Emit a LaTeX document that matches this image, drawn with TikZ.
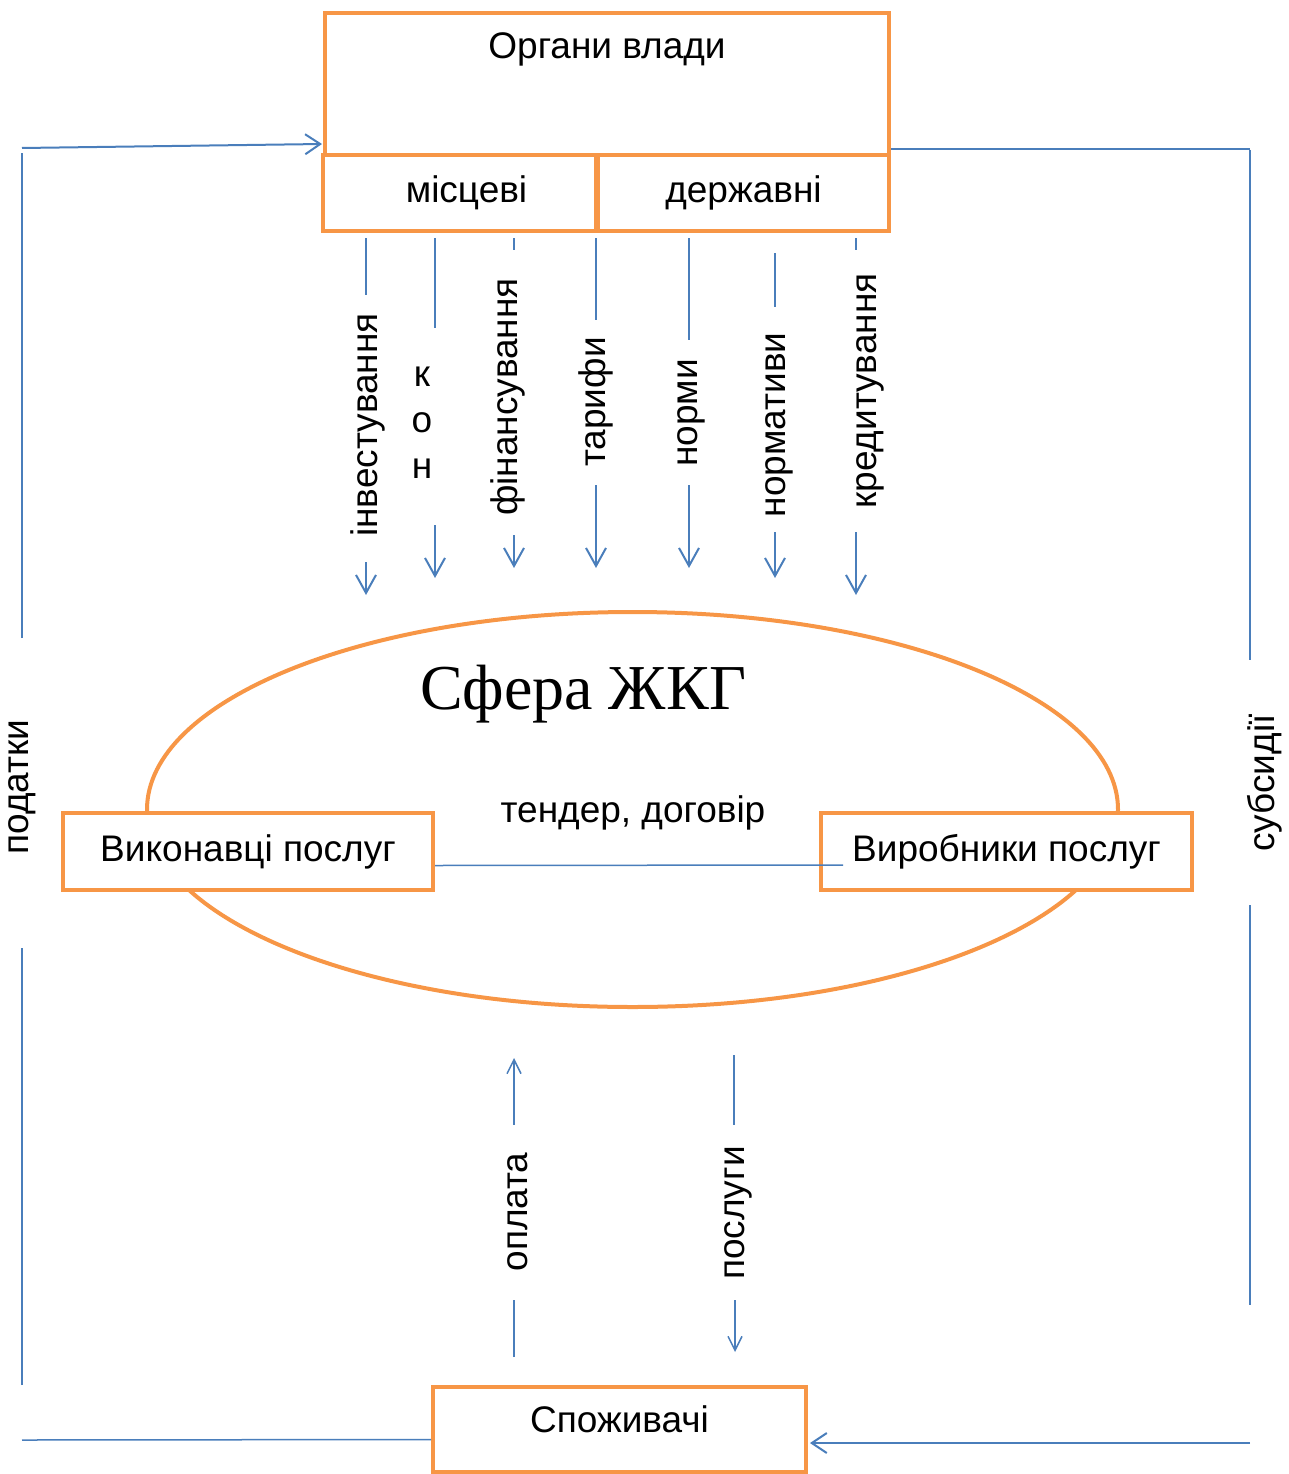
\documentclass[tikz,border=0pt]{standalone}
\usepackage{fontspec}
\setmainfont{Liberation Sans}
\newfontfamily\timesru{Liberation Serif}
\usepackage{tikz}
\usetikzlibrary{arrows.meta,shapes.geometric}
\definecolor{orng}{HTML}{F79646}
\definecolor{blu}{HTML}{4A7EBB}

\begin{document}
\begin{tikzpicture}[x=1pt,y=-1pt,font=\fontsize{37}{46}\selectfont,
		>={Straight Barb[length=18pt,width=20pt]}]
				\tikzstyle{ob}=[draw=orng, line width=4pt, fill=white, inner sep=0pt]
				\tikzstyle{bl}=[draw=blu, line width=2pt]
				\tikzstyle{th}=[draw=blu, line width=1.5pt]
				\tikzstyle{vl}=[rotate=90, inner sep=0pt]
				\useasboundingbox (0,0) rectangle (1288,1474);

				% sfera
				\node[draw=orng, line width=4pt, ellipse, minimum width=971, minimum height=395] (sfera) at (632.5,809.5) {};
				\node (sferat) at (583,694) {\timesru\fontsize{64}{72}\selectfont Сфера ЖКГ};
				\node (tender) at (633,813) {тендер, договір};
				\node[ob, minimum width=370, minimum height=77] (vykon) at (248,851.5) {Виконавці послуг};
				\node[ob, minimum width=371, minimum height=77] (virob) at (1006.5,851.5) {Виробники послуг};

				% organy vlady
				\node[ob, minimum width=564, minimum height=142] (organy) at (607,84) {};
				\node (organyt) at (607,49) {Органи влади};
				\node[ob, minimum width=273, minimum height=76] (mists) at (459.5,193) {\hspace{14pt}місцеві};
				\node[ob, minimum width=291, minimum height=76] (derzh) at (743.5,193) {державні};

				\node[ob, minimum width=373, minimum height=85] (spozh) at (619.5,1429.5) {\raisebox{20pt}{Споживачі}};

				% strilky vnyz
				\foreach \n/\x/\xl/\ya/\yb/\ym/\yc/\yd/\txt in {
					1/366/368/238/295/425/562/595/інвестування,
					3/514/508/238/250/397/535/568/фінансування,
					4/596/596/238/320/402/485/568/тарифи,
					5/689/691/238/340/413/485/568/норми,
					6/775/779/253/307/425/532/578/нормативи,
					7/856/870/238/250/391/532/595/кредитування}
				{
					\coordinate (s\n) at (\x,\ya);
					\coordinate (g\n) at (\x,\yb);
					\node[vl] (l\n) at (\xl,\ym) {\txt};
					\coordinate (h\n) at (\x,\yc);
					\coordinate (e\n) at (\x,\yd);
					\draw[bl] (s\n) -- (g\n);
					\draw[bl,->] (h\n) -- (e\n);
				}
				\coordinate (s2) at (435,238);
				\coordinate (g2) at (435,328);
				\node[align=center, inner sep=0pt] (l2) at (422,423) {к\\о\\н};
				\coordinate (h2) at (435,525);
				\coordinate (e2) at (435,578);
				\draw[bl] (s2) -- (g2);
				\draw[bl,->] (h2) -- (e2);

				\draw[th] (vykon.east) ++(0,14) coordinate (t1) -- (843,865) coordinate (t2);

				% oplata, poslugy
				\coordinate (o1) at (514,1357);
				\coordinate (o2) at (514,1300);
				\node[vl] (opl) at (518,1212) {оплата};
				\coordinate (o3) at (514,1125);
				\coordinate (o4) at (514,1058);
				\draw[th] (o1) -- (o2);
				\draw[th,{Straight Barb[length=14pt,width=14pt]}-] (o4) -- (o3);
				\coordinate (p1) at (734,1055);
				\coordinate (p2) at (734,1125);
				\node[vl] (posl) at (738,1213) {послуги};
				\coordinate (p3) at (735,1300);
				\coordinate (p4) at (735,1352);
				\draw[th] (p1) -- (p2);
				\draw[th,-{Straight Barb[length=14pt,width=14pt]}] (p3) -- (p4);

				% podatky
				\coordinate (a1) at (22,1440);
				\coordinate (a2) at (22,1385);
				\coordinate (a3) at (22,948);
				\coordinate (a4) at (22,638);
				\coordinate (a5) at (22,153);
				\coordinate (a6) at (22,148);
				\coordinate (a7) at (322,144);
				\node[vl] (podat) at (22,787) {податки};
				\draw[th] (spozh.west) ++(0,10) -- (a1);
				\draw[th] (a2) -- (a3);
				\draw[th] (a4) -- (a5);
				\draw[bl,-{Straight Barb[length=15pt,width=20pt]}] (a6) -- (a7);

				% subsydii
				\coordinate (b1) at (1250,149);
				\coordinate (b2) at (1250,150);
				\coordinate (b3) at (1250,660);
				\coordinate (b4) at (1250,905);
				\coordinate (b5) at (1250,1305);
				\coordinate (b6) at (1250,1443);
				\coordinate (b7) at (810,1443);
				\node[vl] (subs) at (1265,783) {субсидії};
				\draw[th] (organy.south east) ++(0,-8) -- (b1);
				\draw[th] (b2) -- (b3);
				\draw[th] (b4) -- (b5);
				\draw[bl,-{Straight Barb[length=15pt,width=20pt]}] (b6) -- (b7);
			\end{tikzpicture}
\end{document}
